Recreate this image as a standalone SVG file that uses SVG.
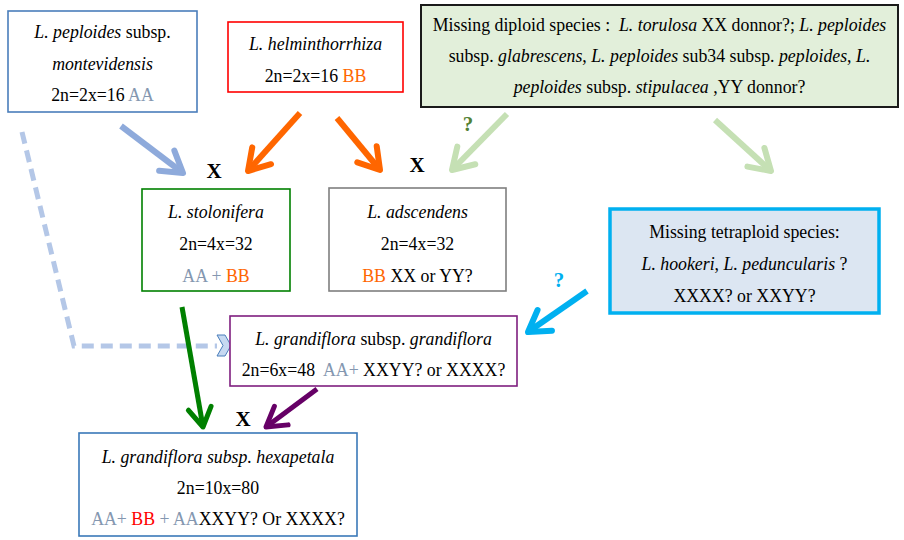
<svg xmlns="http://www.w3.org/2000/svg" width="904" height="540" viewBox="0 0 904 540">
<style>
text{font-family:"Liberation Serif","Times New Roman",serif;font-size:17.8px;fill:#000;text-anchor:middle}
.i{font-style:italic}
.aa{fill:#8497b0}
.bb{fill:#ff6600}
.rb{fill:#ff0000}
.x{font-weight:bold;font-size:21px}
.box{stroke-width:1.6}
.ln{fill:none;stroke-linecap:butt}
</style>
<defs>
<marker id="mBlue" markerUnits="strokeWidth" markerWidth="8" markerHeight="8" viewBox="-5 -4 8 8" refX="0" refY="0" orient="auto" overflow="visible"><path d="M-3.4,-2.1 L0,0 L-3.4,2.1" fill="none" stroke="#8eaadb" stroke-width="1" stroke-linecap="round" stroke-linejoin="round"/></marker>
<marker id="mOrange" markerUnits="strokeWidth" markerWidth="8" markerHeight="8" viewBox="-5 -4 8 8" refX="0" refY="0" orient="auto" overflow="visible"><path d="M-3.4,-2.1 L0,0 L-3.4,2.1" fill="none" stroke="#ff6600" stroke-width="1" stroke-linecap="round" stroke-linejoin="round"/></marker>
<marker id="mLGreen" markerUnits="strokeWidth" markerWidth="8" markerHeight="8" viewBox="-5 -4 8 8" refX="0" refY="0" orient="auto" overflow="visible"><path d="M-3.4,-2.1 L0,0 L-3.4,2.1" fill="none" stroke="#c5e0b4" stroke-width="1" stroke-linecap="round" stroke-linejoin="round"/></marker>
<marker id="mGreen" markerUnits="strokeWidth" markerWidth="8" markerHeight="8" viewBox="-5 -4 8 8" refX="0" refY="0" orient="auto" overflow="visible"><path d="M-3.8,-2.3 L0,0 L-3.8,2.3" fill="none" stroke="#008000" stroke-width="1" stroke-linecap="round" stroke-linejoin="round"/></marker>
<marker id="mPurple" markerUnits="strokeWidth" markerWidth="8" markerHeight="8" viewBox="-5 -4 8 8" refX="0" refY="0" orient="auto" overflow="visible"><path d="M-3.8,-2.3 L0,0 L-3.8,2.3" fill="none" stroke="#660066" stroke-width="1" stroke-linecap="round" stroke-linejoin="round"/></marker>
<marker id="mCyan" markerUnits="strokeWidth" markerWidth="8" markerHeight="8" viewBox="-5 -4 8 8" refX="0" refY="0" orient="auto" overflow="visible"><path d="M-3.4,-2.1 L0,0 L-3.4,2.1" fill="none" stroke="#00b0f0" stroke-width="1" stroke-linecap="round" stroke-linejoin="round"/></marker>
</defs>
<rect width="904" height="540" fill="#fff"/>

<g id="connectors">
<path class="ln" d="M22,132 L74,346 L217,346" stroke="#b4c7e7" stroke-width="5" stroke-dasharray="12 7"/>
<polygon points="217,335 225,335 231,345.5 225,356 217,356 223,345.5" fill="#c6d9f1" stroke="#4a7ebb" stroke-width="1"/>
<line class="ln" x1="121" y1="126" x2="183" y2="173" stroke="#8eaadb" stroke-width="6" marker-end="url(#mBlue)"/>
<line class="ln" x1="300" y1="113" x2="248" y2="171" stroke="#ff6600" stroke-width="6" marker-end="url(#mOrange)"/>
<line class="ln" x1="337" y1="118" x2="380" y2="170" stroke="#ff6600" stroke-width="6" marker-end="url(#mOrange)"/>
<line class="ln" x1="507" y1="114" x2="452" y2="170" stroke="#c5e0b4" stroke-width="6" marker-end="url(#mLGreen)"/>
<line class="ln" x1="715" y1="120" x2="771" y2="171" stroke="#c5e0b4" stroke-width="6" marker-end="url(#mLGreen)"/>
<line class="ln" x1="182" y1="307" x2="203" y2="427" stroke="#008000" stroke-width="5" marker-end="url(#mGreen)"/>
<line class="ln" x1="317" y1="389" x2="266" y2="427" stroke="#660066" stroke-width="5" marker-end="url(#mPurple)"/>
<line class="ln" x1="587" y1="291" x2="528" y2="332" stroke="#00b0f0" stroke-width="6" marker-end="url(#mCyan)"/>
<text class="x" x="214" y="178">X</text>
<text class="x" x="417" y="172">X</text>
<text class="x" x="243" y="426">X</text>
<text class="x" x="468" y="131" style="fill:#538135">?</text>
<text class="x" x="559" y="287" style="fill:#00b0f0">?</text>
</g>

<g id="peploides-montevidensis">
<rect class="box" x="8" y="11" width="189" height="101" fill="#fff" stroke="#4a7ebb"/>
<text x="102.5" y="38"><tspan class="i">L. peploides</tspan> subsp.</text>
<text x="102.5" y="70" class="i">montevidensis</text>
<text x="102.5" y="101">2n=2x=16 <tspan class="aa">AA</tspan></text>
</g>

<g id="helminthorrhiza">
<rect class="box" x="228" y="22" width="175" height="70" fill="#fff" stroke="#ff0000"/>
<text x="315.5" y="50" class="i">L. helminthorrhiza</text>
<text x="315.5" y="81.5">2n=2x=16 <tspan class="bb">BB</tspan></text>
</g>

<g id="missing-diploid">
<rect x="421" y="5" width="477" height="102" fill="#e2efda" stroke="#1a1a1a" stroke-width="2"/>
<text x="659.5" y="31" xml:space="preserve">Missing diploid species :  <tspan class="i">L. torulosa</tspan> XX donnor?; <tspan class="i">L. peploides</tspan></text>
<text x="659.5" y="62">subsp. <tspan class="i">glabrescens</tspan>, <tspan class="i">L. peploides</tspan> sub34 subsp. <tspan class="i">peploides</tspan>, <tspan class="i">L.</tspan></text>
<text x="659.5" y="93"><tspan class="i">peploides</tspan> subsp. <tspan class="i">stipulacea</tspan> ,YY donnor?</text>
</g>

<g id="stolonifera">
<rect class="box" x="142" y="189" width="148" height="102" fill="#fff" stroke="#008000"/>
<text x="216" y="218" class="i">L. stolonifera</text>
<text x="216" y="250">2n=4x=32</text>
<text x="216" y="281.5"><tspan class="aa">AA + </tspan><tspan class="bb">BB</tspan></text>
</g>

<g id="adscendens">
<rect class="box" x="329" y="188" width="177" height="103" fill="#fff" stroke="#7f7f7f"/>
<text x="417.5" y="218" class="i">L. adscendens</text>
<text x="417.5" y="250">2n=4x=32</text>
<text x="417.5" y="281.5"><tspan class="bb">BB</tspan> XX or YY?</text>
</g>

<g id="missing-tetraploid">
<rect x="610" y="209" width="269" height="104" fill="#dce6f2" stroke="#00b0f0" stroke-width="3.5"/>
<text x="744.5" y="238">Missing tetraploid species:</text>
<text x="744.5" y="270"><tspan class="i">L. hookeri</tspan>, <tspan class="i">L. peduncularis</tspan> ?</text>
<text x="744.5" y="302">XXXX? or XXYY?</text>
</g>

<g id="grandiflora">
<rect class="box" x="230" y="316" width="287" height="70" fill="#fff" stroke="#7f1f7f"/>
<text x="373.5" y="345"><tspan class="i">L. grandiflora</tspan> subsp. <tspan class="i">grandiflora</tspan></text>
<text x="373.5" y="376" xml:space="preserve">2n=6x=48  <tspan class="aa">AA+</tspan> XXYY? or XXXX?</text>
</g>

<g id="hexapetala">
<rect class="box" x="79" y="433" width="278" height="103" fill="#fff" stroke="#3a78b8"/>
<text x="218" y="463" class="i">L. grandiflora subsp. hexapetala</text>
<text x="218" y="494">2n=10x=80</text>
<text x="218" y="525"><tspan class="aa">AA+ </tspan><tspan class="rb">BB</tspan><tspan class="aa"> + AA</tspan>XXYY? Or XXXX?</text>
</g>
</svg>
